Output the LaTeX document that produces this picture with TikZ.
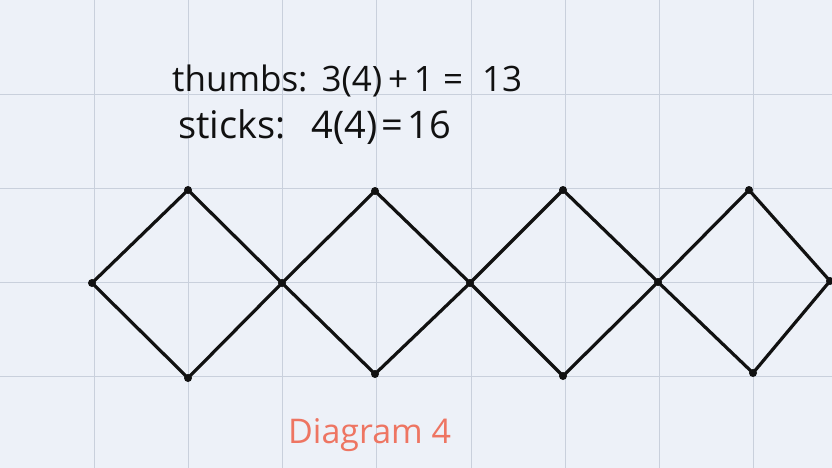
\documentclass[tikz,border=0pt]{standalone}
\usepackage{fontspec}
\setmainfont{Open Sans}
\definecolor{paper}{HTML}{EDF1F8}
\definecolor{gridc}{HTML}{C9D0DC}
\definecolor{coral}{HTML}{EE7562}
\definecolor{ink}{HTML}{111111}
\tikzset{
  gridline/.style={draw=gridc, line width=0.9pt},
  stickline/.style={draw=ink, line width=3.2pt, line cap=round, line join=round},
  tack/.style={circle, fill=ink, inner sep=0pt, minimum size=8pt},
  handtext/.style={text=ink, inner sep=0pt, anchor=base west, font=\fontsize{35}{40}\selectfont},
  sticktext/.style={text=ink, inner sep=0pt, anchor=base west, font=\fontsize{38}{44}\selectfont},
  labeltext/.style={text=coral, inner sep=0pt, anchor=base west, font=\fontsize{34}{40}\selectfont},
}
\begin{document}
\begin{tikzpicture}[x=1pt,y=-1pt]
\useasboundingbox (0,0) rectangle (832,468);
\fill[paper] (0,0) rectangle (832,468);
\foreach \i in {1,...,8} \draw[gridline] (\i*94.2,0) -- (\i*94.2,468);
\foreach \j in {1,...,4} \draw[gridline] (0,\j*94.2) -- (832,\j*94.2);

\node[tack] (L1) at (92,283) {};
\node[tack] (T1) at (188,190) {};
\node[tack] (C1) at (282,283) {};
\node[tack] (B1) at (188,378) {};
\node[tack] (T2) at (375,191) {};
\node[tack] (C2) at (470,283) {};
\node[tack] (B2) at (375,374) {};
\node[tack] (T3) at (563,190) {};
\node[tack] (C3) at (658,282) {};
\node[tack] (B3) at (563,376) {};
\node[tack] (T4) at (749,190) {};
\node[tack] (R4) at (830,281) {};
\node[tack] (B4) at (753,373) {};

\draw[stickline] (L1.center) -- (T1.center) -- (C1.center) -- (T2.center) -- (C2.center) -- (T3.center) -- (C3.center) -- (T4.center) -- (R4.center);
\draw[stickline] (L1.center) -- (B1.center) -- (C1.center) -- (B2.center) -- (C2.center) -- (B3.center) -- (C3.center) -- (B4.center) -- (R4.center);

\node[handtext] (thumbs) at (172,92) {thumbs:\hspace{14pt}3(4)\,+\,1 = \hspace{10pt}13};
\node[sticktext] (sticks) at (178,139) {sticks:\hspace{26pt}4(4)\hspace{4pt}=\hspace{4pt}16};
\node[labeltext] (diag) at (288,443) {Diagram 4};
\end{tikzpicture}
\end{document}
